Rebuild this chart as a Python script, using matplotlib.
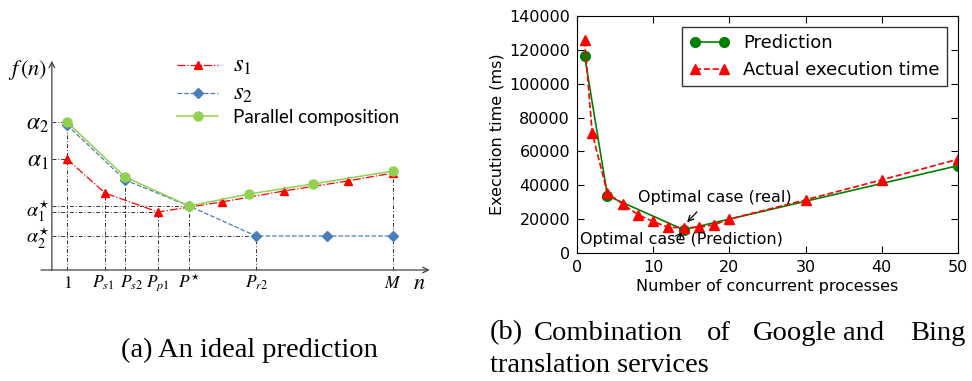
import matplotlib
matplotlib.use('Agg')
import matplotlib.pyplot as plt

plt.rcParams['mathtext.fontset'] = 'stix'

# (a) ideal prediction, schematic units
n_s1 = [1, 3.5, 7.0, 11.2, 15.3, 19.5, 22.5]
f_s1 = [111, 77, 58, 68, 79, 89, 97]
n_s2 = [1, 4.83, 9.05, 13.47, 18.15, 22.5]
f_s2 = [145, 90, 64, 34, 34, 34]
n_par = [1, 4.83, 9.05, 13.0, 17.2, 22.5]
f_par = [148, 93, 64, 76, 86, 99]

xtick_pos = [1, 3.5, 4.83, 7.0, 9.05, 13.47, 22.5]
xtick_lab = ['$1$', '$P_{s1}$', '$P_{s2}$', '$P_{p1}$', r'$P^{\star}$', '$P_{r2}$', '$M$']
ytick_pos = [147, 110, 59, 33]
ytick_lab = [r'$\alpha_2$', r'$\alpha_1$', r'$\alpha_1^{\star}$', r'$\alpha_2^{\star}$']

# (b) Google + Bing translation services
procs_pred = [1, 4, 14, 50]
time_pred = [116500, 33800, 13700, 51600]
procs_real = [1, 2, 4, 6, 8, 10, 12, 14, 16, 18, 20, 30, 40, 50]
time_real = [125600, 70700, 35300, 29000, 22600, 18600, 15100, 15000, 15100,
             16700, 20000, 31400, 43200, 55400]

fig = plt.figure(figsize=(9.72, 3.81), dpi=100)

# ---------- left panel ----------
ax1 = fig.add_axes([0, 0.2126, 0.4527, 0.6824])
ax1.set_xlim(-3.42, 25.6)
ax1.set_ylim(-30, 230)
ax1.axis('off')

guide = dict(color='#333333', lw=0.7, ls=(0, (4, 2, 1, 2)))
# vertical guides down to the n axis
for x, y in [(n_par[0], f_par[0]), (n_s1[1], f_s1[1]), (n_s2[1], f_s2[1]),
             (n_s1[2], f_s1[2]), (n_par[2], f_par[2]), (n_s2[3], f_s2[3]),
             (n_par[-1], f_par[-1])]:
    ax1.plot([x, x], [0, y], **guide)
# horizontal guides to the f axis
for x, y in [(n_par[0], f_par[0]), (n_s1[0], f_s1[0]), (n_par[2], f_par[2]),
             (n_s1[2], f_s1[2]), (n_s2[3], f_s2[3])]:
    ax1.plot([0, x], [y, y], **guide)

ax1.plot(n_s1, f_s1, color='red', ls='-.', lw=0.9, marker='^', ms=6, label='$s_1$')
ax1.plot(n_s2, f_s2, color='#4a7ebb', ls='--', lw=0.9, marker='D', ms=5, label='$s_2$')
ax1.plot(n_par, f_par, color='#92d050', ls='-', lw=1.1, marker='o', ms=6.5,
         label='Parallel composition')

# axes with arrows
arr = dict(arrowstyle='->', color='#404040', lw=0.9)
ax1.annotate('', xy=(0, 212), xytext=(0, -3), arrowprops=arr)
ax1.annotate('', xy=(25.1, 0), xytext=(-0.9, 0), arrowprops=arr)
ax1.text(-1.6, 200, r'$f\,(n)$', fontsize=16, ha='center', va='center')
ax1.text(24.2, -13, '$n$', fontsize=16, ha='center', va='center')

# small nudges so the crowded P labels do not collide
xlab_shift = [0, -0.1, 0.4, 0, 0, 0, 0]
for x, lab, dx in zip(xtick_pos, xtick_lab, xlab_shift):
    ax1.text(x + dx, -13, lab, fontsize=12.5, ha='center', va='center')
ylab_size = [17, 17, 14.5, 14.5]
for y, lab, fs in zip(ytick_pos, ytick_lab, ylab_size):
    ax1.text(-0.95, y, lab, fontsize=fs, ha='center', va='center')

leg1 = ax1.legend(loc='upper left', bbox_to_anchor=(0.364, 1.018), frameon=False,
                  handlelength=2.2, labelspacing=0.22,
                  prop={'family': 'Lato', 'size': 13.5})
for t in leg1.get_texts()[:2]:
    t.set_fontsize(18)

# ---------- right panel ----------
ax2 = fig.add_axes([0.5936, 0.336, 0.392, 0.622])
ax2.plot(procs_pred, time_pred, 'g-o', lw=1.2, ms=7, mec='g', label='Prediction')
ax2.plot(procs_real, time_real, 'r--^', lw=1.2, ms=7, mec='r', label='Actual execution time')
ax2.set_xlim(0, 50)
ax2.set_ylim(0, 140000)
ax2.set_xticks([0, 10, 20, 30, 40, 50])
ax2.set_yticks(range(0, 140001, 20000))
ax2.tick_params(direction='in', top=True, right=True, labelsize=11.5, length=5,
                pad=5)
ax2.set_xlabel('Number of concurrent processes', fontsize=11.5, labelpad=3)
ax2.set_ylabel('Execution time (ms)', fontsize=11.5, labelpad=3)
leg2 = ax2.legend(loc='upper right', fontsize=13, numpoints=2, fancybox=False,
                  edgecolor='black', handlelength=2.2, borderaxespad=0.6)
leg2.get_frame().set_linewidth(1.0)

ax2.annotate('Optimal case (real)', xy=(14.2, 17000), xytext=(8.0, 33000),
             fontsize=11.5, va='center')
ax2.annotate('', xy=(14.2, 17000), xytext=(16.0, 25500),
             arrowprops=dict(arrowstyle='->', color='black', lw=0.9))
ax2.text(0.4, 7700, 'Optimal case (Prediction)', fontsize=11.5, va='center')
ax2.annotate('', xy=(14.0, 13500), xytext=(13.3, 9500),
             arrowprops=dict(arrowstyle='->', color='black', lw=0.9))

# ---------- captions ----------
cap = dict(family='Liberation Serif', fontsize=20.5, va='center')
fig.text(249 / 972, 1 - 350 / 381, '(a) An ideal prediction', ha='center', **cap)
for word, px in [('(b)', 490), ('Combination', 534), ('of', 707), ('Google', 753),
                 ('and', 843), ('Bing', 910)]:
    fig.text(px / 972, 1 - 333 / 381, word, ha='left', **cap)
fig.text(490 / 972, 1 - 366 / 381, 'translation services', ha='left', **cap)

fig.savefig('out.png', dpi=100)
